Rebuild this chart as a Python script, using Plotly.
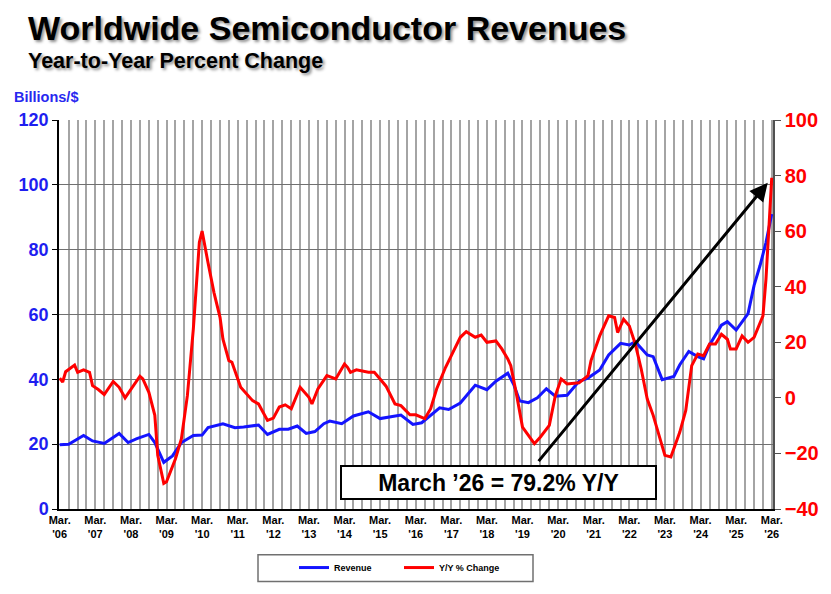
import plotly.graph_objects as go

# ---------------- data ----------------
yoy_months = ["2006-03","2006-04","2006-05","2006-08","2006-09","2006-11","2007-01","2007-02","2007-04","2007-06",
              "2007-09","2007-11","2008-01","2008-03","2008-06","2008-07","2008-09","2008-11","2008-12","2009-02",
              "2009-03","2009-06","2009-08","2009-10","2009-12","2010-02","2010-03","2010-05","2010-07","2010-09",
              "2010-10","2010-12","2011-01","2011-04","2011-08","2011-10","2012-01","2012-03","2012-05","2012-07",
              "2012-09","2012-12","2013-03","2013-04","2013-06","2013-09","2013-12","2014-03","2014-04","2014-05",
              "2014-07","2014-11","2015-01","2015-03","2015-05","2015-08","2015-10","2016-01","2016-03","2016-06",
              "2016-08","2016-10","2017-01","2017-03","2017-06","2017-08","2017-11","2018-01","2018-03","2018-06",
              "2018-08","2018-10","2018-11","2019-01","2019-03","2019-07","2019-09","2019-12","2020-02","2020-04",
              "2020-06","2020-10","2021-01","2021-02","2021-05","2021-08","2021-10","2021-11","2022-01","2022-03",
              "2022-05","2022-07","2022-09","2022-11","2023-01","2023-03","2023-05","2023-08","2023-10","2023-12",
              "2024-02","2024-04","2024-06","2024-08","2024-10","2024-12","2025-01","2025-03","2025-05","2025-07",
              "2025-09","2025-12","2026-01","2026-02","2026-03"]
yoy_pct = [7.1, 5.7, 9.4, 11.8, 9.2, 10.1, 9.2, 4.4, 3.0, 1.2,
           5.9, 3.8, 0.0, 3.2, 7.8, 6.8, 2.0, -6.3, -20.7, -30.8,
           -30.2, -21.9, -14.7, 0.8, 24.7, 56.0, 60.0, 48.6, 37.9, 29.0,
           21.1, 13.4, 12.8, 3.8, -1.0, -2.2, -8.1, -7.3, -3.3, -2.5,
           -3.9, 3.8, 0.2, -2.2, 3.2, 8.0, 6.8, 12.2, 11.0, 9.2,
           10.1, 9.2, 9.2, 6.8, 4.2, -2.2, -2.8, -6.1, -6.1, -7.5,
           -3.9, 3.2, 11.0, 15.2, 21.8, 23.8, 21.8, 22.6, 20.0, 20.5,
           17.6, 14.0, 11.6, 0.8, -10.5, -16.5, -14.1, -9.9, 0.8, 6.8,
           5.0, 5.4, 8.0, 13.4, 22.3, 29.5, 28.9, 23.5, 28.3, 25.9,
           19.4, 10.4, -0.4, -6.3, -13.5, -20.7, -21.3, -12.3, -4.5, 11.6,
           15.8, 15.2, 19.4, 19.4, 22.9, 21.1, 17.6, 17.6, 22.3, 20.0,
           21.8, 29.5, 42.7, 61.8, 79.2]

revenue_months = ["2006-03","2006-06","2006-11","2007-02","2007-06","2007-11","2008-02","2008-05","2008-09","2008-11",
                  "2009-02","2009-05","2009-08","2009-12","2010-03","2010-05","2010-10","2011-02","2011-05","2011-10",
                  "2012-01","2012-05","2012-08","2012-11","2013-02","2013-05","2013-08","2013-10","2014-02","2014-06",
                  "2014-11","2015-03","2015-10","2016-02","2016-05","2016-11","2017-02","2017-06","2017-11","2018-03",
                  "2018-06","2018-10","2018-12","2019-02","2019-05","2019-08","2019-11","2020-02","2020-06","2020-08",
                  "2020-10","2021-01","2021-05","2021-08","2021-12","2022-03","2022-05","2022-09","2022-11","2023-02",
                  "2023-06","2023-08","2023-11","2024-02","2024-04","2024-06","2024-10","2024-12","2025-03","2025-07",
                  "2025-09","2025-11","2026-01","2026-03"]
revenue_bn = [19.8, 20.0, 22.7, 21.0, 20.2, 23.3, 20.5, 21.7, 23.0, 20.5,
              14.4, 16.4, 20.5, 22.7, 22.8, 25.1, 26.3, 25.1, 25.3, 25.9,
              23.0, 24.6, 24.6, 25.6, 23.3, 23.9, 26.3, 27.1, 26.3, 28.7,
              30.0, 27.9, 29.0, 26.1, 26.6, 31.2, 30.7, 32.7, 38.2, 36.8,
              39.4, 41.9, 38.4, 33.3, 32.8, 34.3, 37.1, 34.8, 35.1, 37.3,
              39.4, 40.4, 42.9, 47.5, 51.1, 50.6, 51.6, 47.5, 47.0, 39.9,
              40.9, 44.5, 48.6, 47.0, 46.3, 50.6, 56.7, 57.8, 55.2, 60.3,
              69.0, 75.1, 82.2, 91.0]

label_years = list(range(2006, 2027))
quarter_months = [3, 6, 9, 12]

title_text = "Worldwide Semiconductor Revenues"
subtitle_text = "Year-to-Year Percent Change"
unit_text = "Billions/$"
callout_text = "March \u201926 = 79.2% Y/Y"
arrow_tail = ("2019-08-01", -23.3)
arrow_head = ("2026-01-19", 77.4)

# ---------------- figure ----------------
FONT = "Liberation Sans, Arial, sans-serif"
BLUE = "rgb(20,20,255)"
RED = "rgb(255,0,0)"

tick_vals, tick_text = [], []
for yr in label_years:
    for mo in quarter_months:
        if yr == 2026 and mo > 3:
            continue
        tick_vals.append(f"{yr}-{mo:02d}-01")
        tick_text.append(f"Mar.<br>'{yr % 100:02d}" if mo == 3 else "")

fig = go.Figure()
fig.add_trace(go.Scatter(x=revenue_months, y=revenue_bn, name="Revenue", mode="lines",
                         line=dict(color=BLUE, width=3), yaxis="y"))
fig.add_trace(go.Scatter(x=yoy_months, y=yoy_pct, name="Y/Y % Change", mode="lines",
                         line=dict(color=RED, width=3), yaxis="y2"))

L, R, T, B = 59, 58, 120, 82
W, H = 831, 594
PW, PH = W - L - R, H - T - B


def px(xp):
    return (xp - L) / PW


def py(yp):
    return (H - B - yp) / PH


fig.update_layout(
    width=W, height=H,
    margin=dict(l=L, r=R, t=T, b=B, pad=0),
    paper_bgcolor="white", plot_bgcolor="white",
    font=dict(family=FONT),
    xaxis=dict(type="date", range=["2006-02-22", "2026-03-14"],
               tickmode="array", tickvals=tick_vals, ticktext=tick_text, tickangle=0,
               showgrid=True, gridcolor="#a4a4a4", gridwidth=1.5,
               showline=True, linecolor="black", linewidth=1.5, ticks="",
               tickfont=dict(family=FONT, size=11, color="black", weight="bold"),
               zeroline=False),
    yaxis=dict(range=[0, 120], dtick=20, showgrid=True, gridcolor="#707070", gridwidth=1.2,
               showline=True, linecolor="black", linewidth=1.5,
               ticks="outside", ticklen=5, tickcolor="black",
               tickfont=dict(family=FONT, size=18, color="rgb(30,30,240)", weight="bold"),
               zeroline=False),
    yaxis2=dict(range=[-40, 100], dtick=20, overlaying="y", side="right", showgrid=False,
                showline=True, linecolor="#505050", linewidth=1.5,
                ticks="outside", ticklen=6, tickcolor="#505050",
                tickfont=dict(family=FONT, size=20, color=RED, weight="bold"),
                zeroline=False),
    showlegend=True,
    legend=dict(orientation="h", x=px(294), y=py(571), xanchor="left", yanchor="middle",
                bgcolor="rgba(0,0,0,0)", borderwidth=0,
                font=dict(family=FONT, size=9, color="black", weight="bold"),
                entrywidth=60, entrywidthmode="pixels", itemwidth=30),
)

fig.add_shape(type="rect", xref="paper", yref="paper",
              x0=px(258), x1=px(533), y0=py(585), y1=py(558),
              line=dict(color="#707070", width=1.5), fillcolor="rgba(0,0,0,0)")

shadow = "2px 2px 3px rgba(0,0,0,0.45)"
fig.add_annotation(text=title_text, xref="paper", yref="paper", x=px(26), y=py(27),
                   xanchor="left", yanchor="middle", showarrow=False,
                   font=dict(family=FONT, size=34, color="black", weight="bold", shadow=shadow))
fig.add_annotation(text=subtitle_text, xref="paper", yref="paper", x=px(26), y=py(61),
                   xanchor="left", yanchor="middle", showarrow=False,
                   font=dict(family=FONT, size=21.5, color="black", weight="bold", shadow=shadow))
fig.add_annotation(text=unit_text, xref="paper", yref="paper", x=px(12), y=py(97),
                   xanchor="left", yanchor="middle", showarrow=False,
                   font=dict(family=FONT, size=14.5, color="rgb(40,40,240)", weight="bold"))

fig.add_annotation(x=arrow_head[0], y=arrow_head[1], xref="x", yref="y2",
                   ax=arrow_tail[0], ay=arrow_tail[1], axref="x", ayref="y2",
                   text="", showarrow=True, arrowhead=2, arrowsize=1.2, arrowwidth=3,
                   arrowcolor="black")
fig.add_annotation(text=callout_text, xref="paper", yref="paper", x=px(498.5), y=py(485.5),
                   xanchor="center", yanchor="middle", showarrow=False,
                   width=313, height=31, borderpad=0, borderwidth=2, bordercolor="black",
                   bgcolor="white",
                   font=dict(family=FONT, size=23, color="black", weight="bold"))

fig.write_html("out.html")
